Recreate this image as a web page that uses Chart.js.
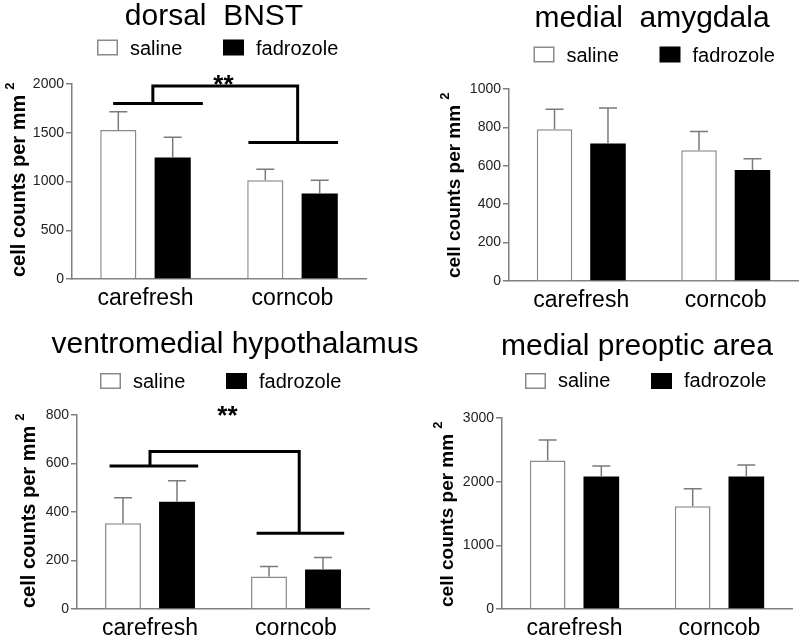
<!DOCTYPE html>
<html>
<head>
<meta charset="utf-8">
<script src="https://cdn.jsdelivr.net/npm/chart.js@4.4.0/dist/chart.umd.min.js"></script>
<style>
body { margin: 0; background: #fff; }
#wrap { position: relative; width: 800px; height: 640px; overflow: hidden; }
canvas { position: absolute; }
</style>
</head>
<body>
<div id="wrap">
<canvas id="c1" width="400" height="320" style="left:0;top:0"></canvas>
<canvas id="c2" width="400" height="320" style="left:400px;top:0"></canvas>
<canvas id="c3" width="440" height="320" style="left:0;top:320px"></canvas>
<canvas id="c4" width="400" height="320" style="left:400px;top:320px"></canvas>
</div>
<script>
'use strict';

var groups = ['carefresh', 'corncob'];
var seriesNames = ['saline', 'fadrozole'];
var yLabel = 'cell counts per mm';

// dorsal BNST
var bnstSaline = [1529, 1014];
var bnstSalineSem = [187, 112];
var bnstFadrozole = [1245, 877];
var bnstFadrozoleSem = [209, 137];
var bnstTicks = [0, 500, 1000, 1500, 2000];
var bnstBracket = {
    left: [-0.22, 0.39], leftStem: 0.05, leftLevel: 1800,
    top: 1980,
    right: [0.70, 1.31], rightStem: 1.035, rightLevel: 1400,
    stars: [0.53, 1908]
};

// medial amygdala
var amySaline = [791, 681];
var amySalineSem = [104, 97];
var amyFadrozole = [716, 578];
var amyFadrozoleSem = [185, 59];
var amyTicks = [0, 200, 400, 600, 800, 1000];

// ventromedial hypothalamus
var vmhSaline = [354, 134];
var vmhSalineSem = [105, 41];
var vmhFadrozole = [442, 163];
var vmhFadrozoleSem = [87, 49];
var vmhTicks = [0, 200, 400, 600, 800];
var vmhBracket = {
    left: [-0.277, 0.33], leftStem: 0.0, leftLevel: 590,
    top: 650,
    right: [0.73, 1.33], rightStem: 1.022, rightLevel: 312,
    stars: [0.53, 763]
};

// medial preoptic area
var mpoaSaline = [2332, 1612];
var mpoaSalineSem = [322, 275];
var mpoaFadrozole = [2081, 2081];
var mpoaFadrozoleSem = [166, 182];
var mpoaTicks = [0, 1000, 2000, 3000];

var FONT = "'Liberation Sans', Arial, Helvetica, sans-serif";
var AXIS_GRAY = '#808080';
Chart.defaults.font.family = FONT;

function makeDecor(cfg) {
    return {
        id: 'decor_' + cfg.id,
        afterDatasetsDraw: function (chart) {
            var ctx = chart.ctx;
            var xs = chart.scales.x;
            var ys = chart.scales.y;
            ctx.save();

            // error bars (upper only)
            var sems = [cfg.salineSem, cfg.fadrozoleSem];
            var vals = [cfg.saline, cfg.fadrozole];
            ctx.strokeStyle = '#7a7a7a';
            ctx.lineWidth = 1.5;
            for (var d = 0; d < 2; d++) {
                var meta = chart.getDatasetMeta(d);
                for (var i = 0; i < meta.data.length; i++) {
                    var bar = meta.data[i];
                    var yTop = ys.getPixelForValue(vals[d][i] + sems[d][i]);
                    ctx.beginPath();
                    ctx.moveTo(bar.x, bar.y);
                    ctx.lineTo(bar.x, yTop);
                    ctx.moveTo(bar.x - 9, yTop);
                    ctx.lineTo(bar.x + 9, yTop);
                    ctx.stroke();
                }
            }

            // significance bracket
            var b = cfg.bracket;
            if (b) {
                ctx.strokeStyle = '#000';
                ctx.lineWidth = 3;
                ctx.lineJoin = 'miter';
                var yL = ys.getPixelForValue(b.leftLevel);
                var yR = ys.getPixelForValue(b.rightLevel);
                var yT = ys.getPixelForValue(b.top);
                ctx.beginPath();
                ctx.moveTo(xs.getPixelForValue(b.left[0]), yL);
                ctx.lineTo(xs.getPixelForValue(b.left[1]), yL);
                ctx.stroke();
                ctx.beginPath();
                ctx.moveTo(xs.getPixelForValue(b.leftStem), yL);
                ctx.lineTo(xs.getPixelForValue(b.leftStem), yT);
                ctx.lineTo(xs.getPixelForValue(b.rightStem), yT);
                ctx.lineTo(xs.getPixelForValue(b.rightStem), yR);
                ctx.stroke();
                ctx.beginPath();
                ctx.moveTo(xs.getPixelForValue(b.right[0]), yR);
                ctx.lineTo(xs.getPixelForValue(b.right[1]), yR);
                ctx.stroke();

                ctx.fillStyle = '#000';
                ctx.font = 'bold 26px ' + FONT;
                ctx.textAlign = 'center';
                ctx.textBaseline = 'alphabetic';
                ctx.fillText('**', xs.getPixelForValue(b.stars[0]), ys.getPixelForValue(b.stars[1]));
            }

            // title
            ctx.fillStyle = '#000';
            ctx.font = '30px ' + FONT;
            ctx.textAlign = 'center';
            ctx.textBaseline = 'alphabetic';
            ctx.fillText(cfg.title, cfg.titleX, cfg.titleY);

            // legend
            var lg = cfg.legend;
            ctx.font = '20px ' + FONT;
            ctx.textAlign = 'left';
            for (var k = 0; k < seriesNames.length; k++) {
                var bx = lg.x + k * 126;
                if (k === 0) {
                    ctx.fillStyle = '#fff';
                    ctx.fillRect(bx, lg.boxTop, 21, 16);
                    ctx.strokeStyle = '#8a8a8a';
                    ctx.lineWidth = 1.5;
                    ctx.strokeRect(bx + 0.75, lg.boxTop + 0.75, 19.5, 14.5);
                } else {
                    ctx.fillStyle = '#000';
                    ctx.fillRect(bx, lg.boxTop, 21, 16);
                }
                ctx.fillStyle = '#000';
                ctx.fillText(seriesNames[k], bx + 33, lg.baseline);
            }

            // y axis label with superscript
            ctx.save();
            ctx.translate(cfg.ylab.x, cfg.ylab.y);
            ctx.rotate(-Math.PI / 2);
            ctx.font = 'bold ' + cfg.ylab.size + 'px ' + FONT;
            ctx.fillStyle = '#000';
            ctx.textAlign = 'left';
            ctx.fillText(yLabel, 0, 0);
            var w = ctx.measureText(yLabel).width;
            ctx.font = 'bold 13px ' + FONT;
            ctx.fillText('2', w + 5, -11);
            ctx.restore();

            ctx.restore();
        }
    };
}

function makePanel(cfg) {
    var ticks = cfg.ticks;
    var area = cfg.area;
    var canvas = document.getElementById(cfg.id);
    var cw = canvas.width;
    new Chart(canvas, {
        type: 'bar',
        data: {
            labels: groups,
            datasets: [{
                label: seriesNames[0],
                data: cfg.saline,
                backgroundColor: '#fff',
                borderColor: '#8a8a8a',
                borderWidth: 1.5,
                borderSkipped: 'start',
                categoryPercentage: 0.74,
                barPercentage: 0.665
            }, {
                label: seriesNames[1],
                data: cfg.fadrozole,
                backgroundColor: '#000',
                borderColor: '#000',
                borderWidth: 0,
                categoryPercentage: 0.74,
                barPercentage: 0.665
            }]
        },
        options: {
            responsive: false,
            animation: false,
            devicePixelRatio: 1,
            layout: {
                padding: { top: area.top, right: cw - area.right, left: 0, bottom: 0 }
            },
            plugins: {
                legend: { display: false },
                title: { display: false },
                tooltip: { enabled: false }
            },
            scales: {
                x: {
                    grid: { display: false, drawTicks: false },
                    border: { display: true, color: AXIS_GRAY, width: 1.5 },
                    ticks: { color: '#000', font: { size: 23 }, padding: 6 },
                    afterFit: function (scale) { scale.height = 320 - area.bottom; }
                },
                y: {
                    min: ticks[0],
                    max: ticks[ticks.length - 1],
                    grid: { display: true, drawOnChartArea: false, drawTicks: true, tickLength: 6, color: AXIS_GRAY, lineWidth: 1.5 },
                    border: { display: true, color: AXIS_GRAY, width: 1.5 },
                    ticks: {
                        stepSize: ticks[1] - ticks[0],
                        color: '#222',
                        font: { size: 14 },
                        padding: 2,
                        callback: function (v) { return String(v); }
                    },
                    afterFit: function (scale) { scale.width = area.left; }
                }
            }
        },
        plugins: [makeDecor(cfg)]
    });
}

makePanel({
    id: 'c1', title: 'dorsal  BNST', titleX: 214, titleY: 25,
    saline: bnstSaline, salineSem: bnstSalineSem,
    fadrozole: bnstFadrozole, fadrozoleSem: bnstFadrozoleSem,
    ticks: bnstTicks, bracket: bnstBracket,
    area: { left: 72, right: 366, top: 84, bottom: 279 },
    legend: { x: 97, boxTop: 39.5, baseline: 55 },
    ylab: { x: 25, y: 277, size: 20 }
});

makePanel({
    id: 'c3', title: 'ventromedial hypothalamus', titleX: 235, titleY: 33,
    saline: vmhSaline, salineSem: vmhSalineSem,
    fadrozole: vmhFadrozole, fadrozoleSem: vmhFadrozoleSem,
    ticks: vmhTicks, bracket: vmhBracket,
    area: { left: 77, right: 369, top: 95, bottom: 289 },
    legend: { x: 100, boxTop: 53, baseline: 68 },
    ylab: { x: 35, y: 288, size: 20 }
});

makePanel({
    id: 'c2', title: 'medial  amygdala', titleX: 252, titleY: 27,
    saline: amySaline, salineSem: amySalineSem,
    fadrozole: amyFadrozole, fadrozoleSem: amyFadrozoleSem,
    ticks: amyTicks, bracket: null,
    area: { left: 109, right: 398, top: 89, bottom: 281 },
    legend: { x: 133.5, boxTop: 46.5, baseline: 62 },
    ylab: { x: 60, y: 278, size: 19 }
});

makePanel({
    id: 'c4', title: 'medial preoptic area', titleX: 237, titleY: 35,
    saline: mpoaSaline, salineSem: mpoaSalineSem,
    fadrozole: mpoaFadrozole, fadrozoleSem: mpoaFadrozoleSem,
    ticks: mpoaTicks, bracket: null,
    area: { left: 102, right: 392, top: 98, bottom: 289 },
    legend: { x: 125, boxTop: 53, baseline: 66.5 },
    ylab: { x: 53, y: 287, size: 19 }
});
</script>
</body>
</html>
